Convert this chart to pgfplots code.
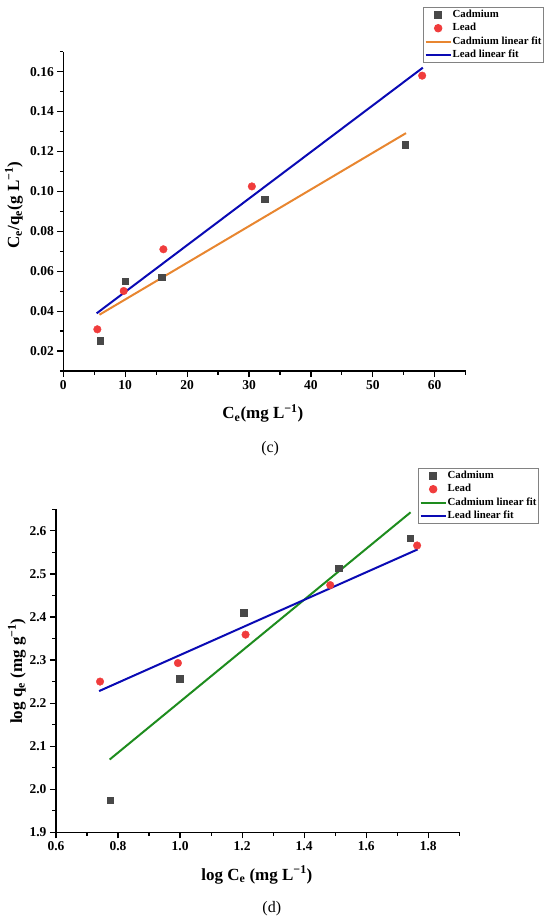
\documentclass[border=0pt]{standalone}
\usepackage{fontspec}
\setmainfont{Liberation Serif}
\usepackage{pgfplots}
\pgfplotsset{compat=1.18}
\definecolor{cdgray}{RGB}{72,72,72}
\definecolor{pbred}{RGB}{240,60,60}
\definecolor{fitorange}{RGB}{232,134,48}
\definecolor{fitblue}{RGB}{10,10,180}
\definecolor{fitgreen}{RGB}{30,140,30}
\definecolor{legframe}{RGB}{130,130,130}
\pgfplotsset{
  orig/.style={
    scale only axis,
    axis x line*=bottom, axis y line*=left,
    axis line style={line width=1.3pt, black},
    tick align=outside,
    major tick length=6pt, minor tick length=3.5pt,
    tick style={line width=1.2pt, black},
    tick label style={font=\fontsize{13.5}{14}\selectfont\bfseries},
    /pgf/number format/assume math mode=true,
    xticklabel={\textbf{\pgfmathprintnumber[assume math mode=true]{\tick}}},
    yticklabel={\textbf{\pgfmathprintnumber[assume math mode=true]{\tick}}},
    label style={font=\fontsize{17}{18}\selectfont\bfseries},
    scaled ticks=false,
    clip=false,
    legend cell align=left,
    legend image code/.code={\draw[mark repeat=2,mark phase=2,##1] plot coordinates {(0pt,0pt)(12.5pt,0pt)(25pt,0pt)};},
    legend style={draw=legframe, line width=0.8pt, fill=white, inner sep=1pt,
       font=\fontsize{10.8}{11}\selectfont\bfseries, anchor=north west,
       nodes={inner sep=1pt, text height=7.5pt, text depth=2.5pt}, row sep=1.5pt},
  },
}
\begin{document}
\begin{tikzpicture}
\path[use as bounding box] (0,0) rectangle (550pt,-918pt);
% ---------------- (c) ----------------
\begin{axis}[orig, at={(63.3pt,-371pt)}, anchor=south west,
  width=402.4pt, height=319.3pt,
  xmin=0, xmax=65, ymin=0.01, ymax=0.17,
  xtick={0,10,20,30,40,50,60}, minor xtick={5,15,25,35,45,55,65},
  ytick={0.02,0.04,0.06,0.08,0.10,0.12,0.14,0.16},
  minor ytick={0.01,0.03,0.05,0.07,0.09,0.11,0.13,0.15,0.17},
  yticklabel style={/pgf/number format/.cd, fixed, fixed zerofill, precision=2},
  xlabel={C\textsubscript{e}(mg L\textsuperscript{−1})},
  xlabel style={at={(axis description cs:0.496,-0.1503)}, anchor=base},
  ylabel={C\textsubscript{e}/q\textsubscript{e}(g L\textsuperscript{−1})},
  ylabel style={at={(axis description cs:-0.1225,0.52)}, anchor=center},
  legend style={at={(axis description cs:0.8946,1.139)}},
]
\addplot[only marks, mark=square*, mark size=3.3pt, color=cdgray] coordinates {
  (5.96,0.0252) (9.98,0.0551) (15.94,0.0571) (32.5,0.0961) (55.25,0.1234)};
\addplot[only marks, mark=*, mark size=3.8pt, color=pbred] coordinates {
  (5.50,0.0309) (9.76,0.0501) (16.17,0.0710) (30.46,0.1025) (57.97,0.1580)};
\addplot[fitorange, line width=2pt, no marks] coordinates {(5.84,0.0382) (55.36,0.1292)};
\addplot[fitblue, line width=2pt, no marks] coordinates {(5.39,0.0389) (58.08,0.1620)};
\legend{Cadmium, Lead, Cadmium linear fit, Lead linear fit}
\node[font=\fontsize{16}{16}\selectfont] at (axis description cs:0.514,-0.244) {(c)};
\end{axis}
% ---------------- (d) ----------------
\begin{axis}[orig, at={(56pt,-832.3pt)}, anchor=south west,
  width=403.3pt, height=323pt,
  xmin=0.6, xmax=1.9, ymin=1.9, ymax=2.65,
  xtick={0.6,0.8,1.0,1.2,1.4,1.6,1.8}, minor xtick={0.7,0.9,1.1,1.3,1.5,1.7,1.9},
  ytick={1.9,2.0,2.1,2.2,2.3,2.4,2.5,2.6},
  minor ytick={1.95,2.05,2.15,2.25,2.35,2.45,2.55,2.65},
  xticklabel style={/pgf/number format/.cd, fixed, fixed zerofill, precision=1},
  yticklabel style={/pgf/number format/.cd, fixed, fixed zerofill, precision=1},
  xlabel={log C\textsubscript{e} (mg L\textsuperscript{−1})},
  xlabel style={at={(axis description cs:0.498,-0.1477)}, anchor=base},
  ylabel={log q\textsubscript{e} (mg g\textsuperscript{−1})},
  ylabel style={at={(axis description cs:-0.097,0.499)}, anchor=center},
  legend style={at={(axis description cs:0.8983,1.1269)}},
]
\addplot[only marks, mark=square*, mark size=3.3pt, color=cdgray] coordinates {
  (0.775,1.975) (0.999,2.256) (1.2045,2.410) (1.512,2.513) (1.742,2.583)};
\addplot[only marks, mark=*, mark size=3.8pt, color=pbred] coordinates {
  (0.742,2.250) (0.993,2.293) (1.211,2.359) (1.484,2.474) (1.764,2.566)};
\addplot[fitgreen, line width=2pt, no marks] coordinates {(0.773,2.069) (1.743,2.643)};
\addplot[fitblue, line width=2pt, no marks] coordinates {(0.739,2.228) (1.766,2.557)};
\legend{Cadmium, Lead, Cadmium linear fit, Lead linear fit}
\node[font=\fontsize{16}{16}\selectfont] at (axis description cs:0.535,-0.2375) {(d)};
\end{axis}
\end{tikzpicture}
\end{document}
